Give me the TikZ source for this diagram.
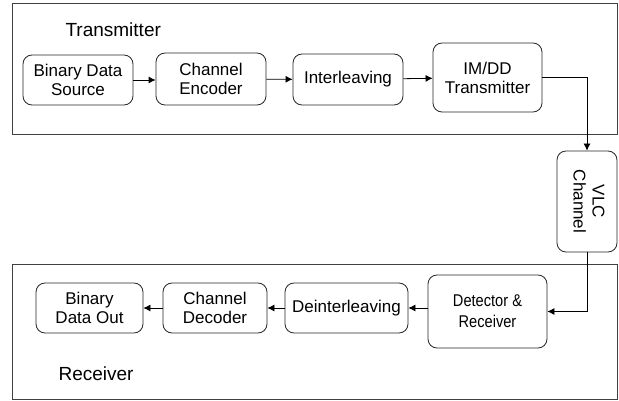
\documentclass[tikz,border=0pt]{standalone}
\usepackage{fontspec}
\setmainfont{Liberation Sans}
\newfontfamily\narrowsf{Liberation Sans}[FakeStretch=0.86]
\usetikzlibrary{arrows.meta}

\begin{document}
\begin{tikzpicture}[x=1pt, y=-1pt,
  frame/.style = {draw=black!75, line width=0.8pt},
  blk/.style = {draw=black!85, line width=0.8pt, rounded corners=9pt, align=center,
                font=\fontsize{17}{19}\selectfont, inner sep=0pt},
  head/.style = {anchor=base west, font=\fontsize{19}{22}\selectfont},
  flow/.style = {draw=black, line width=0.8pt, -{Latex[length=7pt,width=7pt]}}]
\useasboundingbox (0,0) rectangle (619,401);

% the two halves
\node[frame, minimum width=605pt, minimum height=131pt] (tx) at (314.5,68.5) {};
\node[frame, minimum width=605pt, minimum height=135pt] (rx) at (314.5,331.5) {};
\node[head] (txlabel) at (62,37) {Transmitter};
\node[head] (rxlabel) at (55,380) {Receiver};

% transmitter chain
\node[blk, minimum width=110pt, minimum height=50pt] (src) at (78,80) {Binary Data\\Source};
\node[blk, minimum width=110pt, minimum height=52pt] (enc) at (211,79) {Channel\\Encoder};
\node[blk, minimum width=110pt, minimum height=51pt] (intl) at (348,79.5) {Interleaving};
\node[blk, minimum width=109pt, minimum height=69pt] (imdd) at (487.5,77.5) {IM/DD\\Transmitter};

% channel
\node[blk, minimum width=60pt, minimum height=101pt] (vlc) at (587,201.5)
  {\rotatebox{-90}{\begin{tabular}{@{}c@{}}VLC\\Channel\end{tabular}}};

% receiver chain
\node[blk, minimum width=119pt, minimum height=73pt,
      font=\narrowsf\fontsize{17}{21}\selectfont] (det) at (487.5,311.5) {Detector \&\\Receiver};
\node[blk, minimum width=123pt, minimum height=50pt] (dint) at (346.5,308) {Deinterleaving};
\node[blk, minimum width=104pt, minimum height=50pt] (dec) at (215,308) {Channel\\Decoder};
\node[blk, minimum width=107pt, minimum height=50pt] (out) at (89.5,308) {Binary\\Data Out};

\draw[flow] (src.east) -- (src.east -| enc.west);
\draw[flow] (enc) -- (intl);
\draw[flow] (intl) -- (imdd);
\draw[flow] (imdd.east) -| (vlc.north);
\draw[flow] (vlc.south) |- (det.east);
\draw[flow] (det.west |- dint.east) -- (dint.east);
\draw[flow] (dint) -- (dec);
\draw[flow] (dec) -- (out);
\end{tikzpicture}
\end{document}
